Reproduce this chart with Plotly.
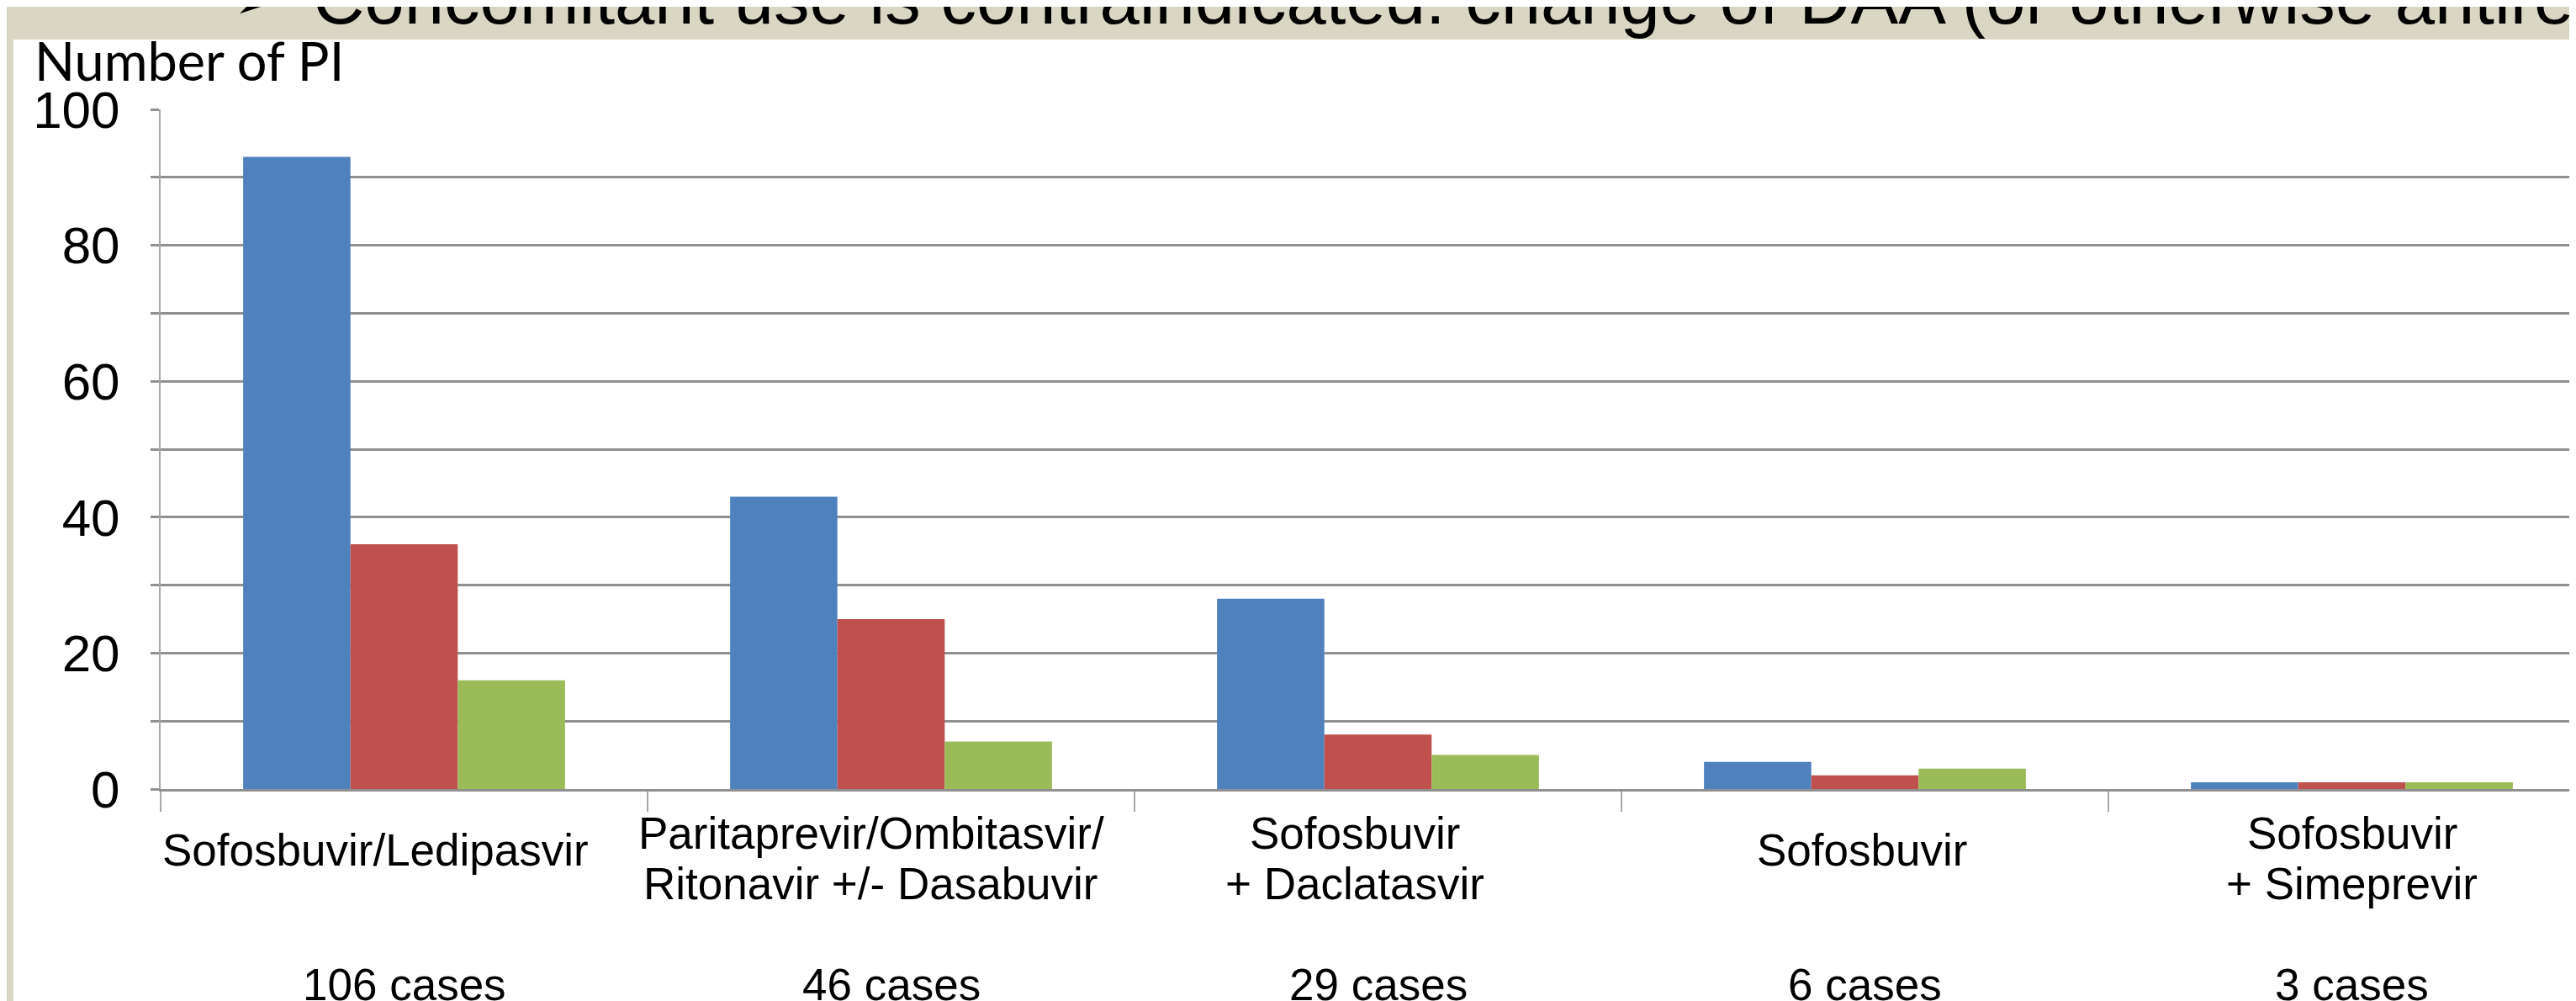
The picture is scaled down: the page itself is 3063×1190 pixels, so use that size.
import plotly.graph_objects as go

# ---------------- data ----------------
categories = [
    "Sofosbuvir/Ledipasvir",
    "Paritaprevir/Ombitasvir/Ritonavir +/- Dasabuvir",
    "Sofosbuvir + Daclatasvir",
    "Sofosbuvir",
    "Sofosbuvir + Simeprevir",
]
category_label_lines = [
    ["Sofosbuvir/Ledipasvir"],
    ["Paritaprevir/Ombitasvir/", "Ritonavir +/- Dasabuvir"],
    ["Sofosbuvir", "+ Daclatasvir"],
    ["Sofosbuvir"],
    ["Sofosbuvir", "+ Simeprevir"],
]
case_labels = ["106 cases", "46 cases", "29 cases", "6 cases", "3 cases"]

series_names = ["Series 1", "Series 2", "Series 3"]
series_1 = [93, 43, 28, 4, 1]
series_2 = [36, 25, 8, 2, 1]
series_3 = [16, 7, 5, 3, 1]

y_tick_values = [0, 10, 20, 30, 40, 50, 60, 70, 80, 90, 100]
y_tick_labels = ["0", "", "20", "", "40", "", "60", "", "80", "", "100"]

y_axis_title = "Number of PI"
slide_text = "Concomitant use is contraindicated: change of DAA (or otherwise antiretroviral therapy)"
bullet = "\u27a2"

# ---------------- style ----------------
W, H = 3063, 1190
ML, MR, MT, MB = 183, 0, 122, 260
PW, PH = W - ML - MR, H - MT - MB
CAT_W = 579.0

BEIGE = "#D9D6C4"
GRID = "#909090"
AXIS = "#A8A8A8"
COLORS = ["#4F81BD", "#C0504D", "#9BBB59"]
ARIAL = "Liberation Sans, Arial, sans-serif"
LABEL_XSHIFT = [-34, -24, -28, -4, 0]


def xp(px):
    return (px - ML) / PW


def yp(py):
    return 1 - (py - MT) / PH


fig = go.Figure()
for name, vals, col in zip(series_names, [series_1, series_2, series_3], COLORS):
    fig.add_trace(go.Bar(x=categories, y=vals, name=name,
                         marker=dict(color=col, line=dict(width=0))))

annotations = []
LINE_GAP = 60
for i, lines in enumerate(category_label_lines):
    n = len(lines)
    if n == 1:
        centers = [1002]
    else:
        centers = [982 + k * LINE_GAP for k in range(n)]
    for k, line in enumerate(lines):
        annotations.append(dict(
            x=i, xref="x", y=yp(centers[k]), yref="paper", xshift=LABEL_XSHIFT[i],
            text=line, showarrow=False, xanchor="center", yanchor="middle",
            font=dict(family=ARIAL, size=53, color="black"),
        ))
    annotations.append(dict(
        x=i, xref="x", y=yp(1162), yref="paper",
        text=case_labels[i], showarrow=False, xanchor="center", yanchor="middle",
        font=dict(family=ARIAL, size=53, color="black"),
    ))

# axis title (top-left)
annotations.append(dict(
    x=xp(31), xref="paper", y=yp(63), yref="paper",
    text=y_axis_title, showarrow=False, xanchor="left", yanchor="middle",
    font=dict(family="Lato, Carlito, sans-serif", size=63, color="black"),
))
# slide text, cut off at the top
annotations.append(dict(
    x=xp(268), xref="paper", y=yp(-7), yref="paper",
    text=bullet, showarrow=False, xanchor="left", yanchor="middle",
    font=dict(family="DejaVu Sans, sans-serif", size=62, color="black"),
))
annotations.append(dict(
    x=xp(362), xref="paper", y=yp(-9.5), yref="paper",
    text=slide_text, showarrow=False, xanchor="left", yanchor="middle",
    font=dict(family=ARIAL, size=85, color="black"),
))

shapes = [dict(
    type="rect", xref="paper", yref="paper",
    x0=xp(8), x1=xp(W + 10), y0=yp(39), y1=yp(H + 10),
    fillcolor="white", line=dict(width=0), layer="below",
)]

fig.update_layout(
    width=W, height=H,
    margin=dict(l=ML, r=MR, t=MT, b=MB, pad=0),
    paper_bgcolor=BEIGE, plot_bgcolor="white",
    barmode="group", bargap=0.339, bargroupgap=0,
    showlegend=False,
    annotations=annotations, shapes=shapes,
    font=dict(family=ARIAL, color="black"),
)
fig.update_xaxes(
    range=[-0.5, -0.5 + PW / CAT_W],
    showticklabels=False, showgrid=False, zeroline=False,
    showline=True, linecolor=GRID, linewidth=3,
    ticks="outside", tickson="boundaries", ticklen=24, tickcolor=AXIS, tickwidth=2,
)
fig.update_yaxes(
    range=[0, 100], tickvals=y_tick_values, ticktext=y_tick_labels,
    showgrid=True, gridcolor=GRID, gridwidth=3, zeroline=False,
    showline=True, linecolor=AXIS, linewidth=2,
    ticks="outside", ticklen=10, tickcolor=GRID, tickwidth=3,
    ticklabelstandoff=24,
    tickfont=dict(family=ARIAL, size=62, color="black"),
)

fig.write_html("out.html")
